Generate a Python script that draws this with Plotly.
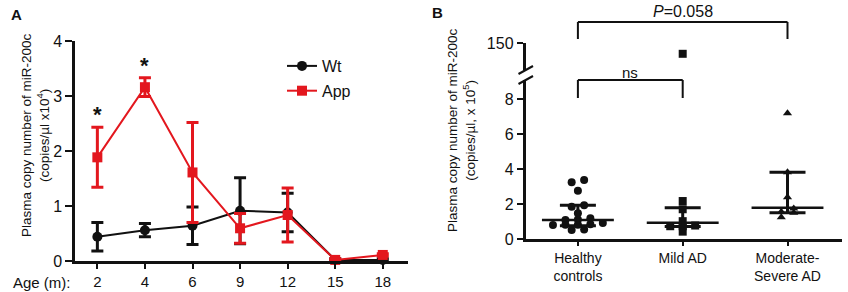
import plotly.graph_objects as go

# ---------------- data ----------------
ages = ["2", "4", "6", "9", "12", "15", "18"]
wt_mean = [0.44, 0.56, 0.64, 0.915, 0.88, 0.02, 0.02]
wt_err = [0.26, 0.12, 0.34, 0.60, 0.35, 0.02, 0.02]
app_mean = [1.885, 3.16, 1.61, 0.595, 0.836, 0.02, 0.11]
app_err = [0.545, 0.17, 0.91, 0.27, 0.49, 0.02, 0.02]
sig_ages = ["2", "4"]

groups = ["Healthy<br>controls", "Mild AD", "Moderate-<br>Severe AD"]
healthy = [3.24, 3.37, 2.76, 1.93, 1.85, 1.47, 1.12, 1.09, 1.18, 0.84, 0.82, 0.92,
           0.82, 0.80, 0.51, 0.55]
mild_ad = [146.0, 2.17, 1.70, 1.02, 0.77, 0.73, 0.73, 0.42]
severe_ad = [7.18, 3.81, 2.38, 1.75, 1.56, 1.50, 1.24]
grp_median = [1.09, 0.93, 1.79]
grp_q1 = [0.76, 0.72, 1.50]
grp_q3 = [1.93, 1.79, 3.81]
p_text = "<i>P</i>=0.058"
ns_text = "ns"

# ---------------- styling ----------------
W, H = 848, 292
FONT = "Liberation Sans, Arial, sans-serif"
RED = "#E3171E"
BLK = "#111111"
BREAK_MAX = 9.086   # top of lower segment of panel B
UPPER_MIN = 140.0   # bottom of upper segment of panel B


def px(x):
    return x / W


def py(y):
    return 1 - y / H


def swarm(vals, center, step=0.119, tol=0.26):
    """Simple column-scatter placement: points of similar value share a row."""
    order = sorted(range(len(vals)), key=lambda i: vals[i])
    xs = [center] * len(vals)
    row = []
    rows = []
    for i in order:
        if row and vals[i] - vals[row[0]] > tol:
            rows.append(row)
            row = []
        row.append(i)
    if row:
        rows.append(row)
    for r in rows:
        n = len(r)
        for k, i in enumerate(r):
            xs[i] = center + (k - (n - 1) / 2) * step
    return xs


fig = go.Figure()

# ---------- Panel A ----------
fig.add_trace(go.Scatter(
    x=ages, y=wt_mean, name="Wt", mode="lines+markers",
    line=dict(color=BLK, width=2),
    marker=dict(symbol="circle", size=10, color=BLK),
    error_y=dict(type="data", array=wt_err, color=BLK, thickness=3, width=6),
    cliponaxis=False, legendgroup="a", xaxis="x", yaxis="y"))
fig.add_trace(go.Scatter(
    x=ages, y=app_mean, name="App", mode="lines+markers",
    line=dict(color=RED, width=2),
    marker=dict(symbol="square", size=10, color=RED),
    error_y=dict(type="data", array=app_err, color=RED, thickness=3, width=6),
    cliponaxis=False, legendgroup="b", xaxis="x", yaxis="y"))

for a in sig_ages:
    i = ages.index(a)
    fig.add_annotation(x=i, y=app_mean[i] + app_err[i], xref="x", yref="y",
                       text="<b>*</b>", showarrow=False, xanchor="center", yanchor="bottom",
                       yshift=-2, font=dict(size=22, color=BLK, family=FONT))

# ---------- Panel B ----------
markers = ["circle", "square", "triangle-up"]
data_b = [healthy, mild_ad, severe_ad]
for g, vals in enumerate(data_b):
    xs = swarm(vals, g)
    lo_x = [x for x, v in zip(xs, vals) if v <= BREAK_MAX]
    lo_y = [v for v in vals if v <= BREAK_MAX]
    hi_x = [g for v in vals if v > BREAK_MAX]
    hi_y = [v for v in vals if v > BREAK_MAX]
    fig.add_trace(go.Scatter(
        x=lo_x, y=lo_y, mode="markers", showlegend=False,
        marker=dict(symbol=markers[g], size=8, color=BLK),
        cliponaxis=False, xaxis="x2", yaxis="y2"))
    if hi_y:
        fig.add_trace(go.Scatter(
            x=hi_x, y=hi_y, mode="markers", showlegend=False,
            marker=dict(symbol=markers[g], size=8, color=BLK),
            cliponaxis=False, xaxis="x2", yaxis="y3"))
    # median line
    fig.add_trace(go.Scatter(
        x=[g - 0.343, g + 0.343], y=[grp_median[g], grp_median[g]],
        mode="lines", showlegend=False, line=dict(color=BLK, width=2.5),
        xaxis="x2", yaxis="y2", hoverinfo="skip"))
    # interquartile range
    fig.add_trace(go.Scatter(
        x=[g], y=[grp_median[g]], mode="markers", showlegend=False,
        marker=dict(size=1, color="rgba(0,0,0,0)"),
        error_y=dict(type="data", symmetric=False,
                     array=[grp_q3[g] - grp_median[g]],
                     arrayminus=[grp_median[g] - grp_q1[g]],
                     color=BLK, thickness=3, width=18),
        xaxis="x2", yaxis="y2", hoverinfo="skip"))


# significance brackets
def bracket(x0, x1, ytop, ybot):
    for (a, b, c, d) in [(x0, ytop, x1, ytop), (x0, ytop, x0, ybot), (x1, ytop, x1, ybot)]:
        fig.add_shape(type="line", xref="x2", yref="paper", x0=a, y0=py(b), x1=c, y1=py(d),
                      line=dict(color=BLK, width=2))


bracket(0, 2, 22, 39)
bracket(0, 1, 80, 98)


def text(x, y, s, size, xref="paper", angle=0, xanchor="center"):
    fig.add_annotation(x=x, y=y, xref=xref, yref="paper", text=s, showarrow=False,
                       xanchor=xanchor, yanchor="middle", textangle=angle,
                       font=dict(size=size, color=BLK, family=FONT))


text(1, py(11), p_text, 16, xref="x2")
text(0.5, py(72), ns_text, 15, xref="x2")

# axis break slashes
for yc in (70, 80):
    fig.add_shape(type="line", xref="paper", yref="paper",
                  x0=px(518.5), y0=py(yc + 4), x1=px(533), y1=py(yc - 4),
                  line=dict(color=BLK, width=2))

# ---------- texts ----------
text(px(16), py(15), "<b>A</b>", 15)
text(px(437), py(13), "<b>B</b>", 15)
text(px(42), py(282), "Age (m):", 15)
text(px(35), py(135), "Plasma copy number of miR-200c<br>(copies/µl x10<sup>4</sup>)", 13.5, angle=-90)
text(px(461), py(130), "Plasma copy number of miR-200c<br>(copies/µl, x 10<sup>5</sup>)", 13.5, angle=-90)

axis_common = dict(showline=True, linecolor=BLK, linewidth=2.5, ticks="outside",
                   tickcolor=BLK, tickwidth=2, showgrid=False, zeroline=False,
                   automargin=False)

fig.update_layout(
    template="none",
    width=W, height=H, margin=dict(l=0, r=0, t=0, b=0, pad=0, autoexpand=False),
    paper_bgcolor="white", plot_bgcolor="white",
    font=dict(family=FONT, color=BLK),
    showlegend=True,
    legend=dict(x=px(282), y=py(49), xanchor="left", yanchor="top",
                font=dict(size=16, color=BLK, family=FONT),
                bgcolor="rgba(0,0,0,0)", borderwidth=0, tracegroupgap=1),
    xaxis=dict(domain=[px(75), px(408)], anchor="y", type="category",
               range=[-0.47, 6.53], ticklen=5,
               tickfont=dict(size=15, color=BLK, family=FONT), **axis_common),
    yaxis=dict(domain=[py(261), py(41)], anchor="x", range=[0, 4], dtick=1,
               ticklen=7, tickfont=dict(size=16, color=BLK, family=FONT), **axis_common),
    xaxis2=dict(domain=[px(525.5), px(842)], anchor="y2", range=[-0.5, 2.52],
                tickvals=[0, 1, 2], ticktext=groups, ticklen=4,
                tickfont=dict(size=14, color=BLK, family=FONT), **axis_common),
    yaxis2=dict(domain=[py(239), py(80)], anchor="x2", range=[0, BREAK_MAX],
                tickvals=[0, 2, 4, 6, 8], ticklen=6,
                tickfont=dict(size=16, color=BLK, family=FONT), **axis_common),
    yaxis3=dict(domain=[py(70), py(43)], anchor="x2", range=[UPPER_MIN, 150],
                tickvals=[150], ticklen=6,
                tickfont=dict(size=16, color=BLK, family=FONT), **axis_common),
)

# remove the browser's default page margin so the figure starts at the window corner
fig.write_html("out.html", config={"displayModeBar": False},
               post_script="document.body.style.margin='0';document.body.style.padding='0';")
